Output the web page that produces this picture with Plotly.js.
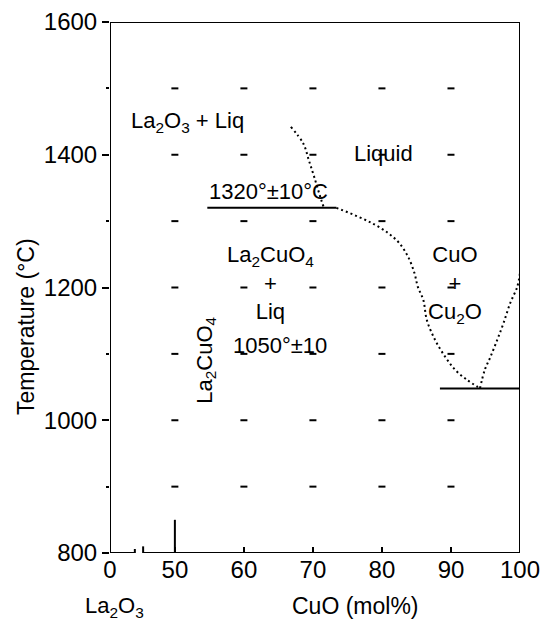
<!DOCTYPE html>
<html>
<head>
<meta charset="utf-8">
<script src="https://cdn.plot.ly/plotly-3.0.1.min.js"></script>
<style>html,body{margin:0;padding:0;background:#fff;}#chart{width:542px;height:623px;}</style>
</head>
<body>
<div id="chart"></div>
<script>
// ---- data (composition in mol% CuO, temperature in °C) ----
const compTicks = [0, 50, 60, 70, 80, 90, 100];
const compTickLabels = ['0', '50', '60', '70', '80', '90', '100'];
const tempTicks = [800, 1000, 1200, 1400, 1600];
const tempTickLabels = ['800', '1000', '1200', '1400', '1600'];

// La2O3 liquidus (above peritectic)
const liqLa2O3Comp = [66.8, 68.6, 69.4, 70.2, 71.2, 71.6];
const liqLa2O3Temp = [1442, 1417, 1392, 1366, 1332, 1320];
// liquidus from peritectic to eutectic
const liqMainComp = [73.4, 76.5, 78.9, 80.9, 82.5, 83.8, 84.7, 85.2, 86.0, 86.5, 87.7, 89.2, 90.6, 92.3, 93.9];
const liqMainTemp = [1320, 1307, 1295, 1282, 1267, 1246, 1222, 1201, 1181, 1151, 1121, 1095, 1076, 1061, 1050];
// CuO/Cu2O side branch from eutectic
const liqCuOComp = [94.2, 94.9, 95.7, 96.7, 97.6, 98.6, 99.6, 100];
const liqCuOTemp = [1048, 1076, 1095, 1121, 1146, 1177, 1201, 1222];

// invariant lines
const peritecticComp = [54.7, 73.4];
const peritecticTemp = [1320, 1320];
const eutecticComp = [88.4, 100];
const eutecticTemp = [1048, 1048];
const la2cuo4Comp = [50, 50];
const la2cuo4Temp = [800, 850];

// grid marks
const gridComp = [50, 60, 70, 80, 90];
const gridTemp = [900, 1000, 1100, 1200, 1300, 1400, 1500];

// ---- axis break: composition 0 is drawn just left of 50 ----
const ZERO_POS = 40.6;
const pos = c => (c === 0 ? ZERO_POS : c);

const FONT = 'Liberation Sans, Arial, sans-serif';
const gx = [], gy = [];
gridComp.forEach(c => gridTemp.forEach(t => { gx.push(pos(c)); gy.push(t); }));

const dotted = {color: '#000', width: 2, dash: '2px,3px', shape: 'spline'};
const solid = {color: '#000', width: 2};

const traces = [
  {x: gx, y: gy, mode: 'markers', marker: {symbol: 'line-ew', size: 5, line: {color: '#000', width: 2}}, hoverinfo: 'skip'},
  {x: liqLa2O3Comp.map(pos), y: liqLa2O3Temp, mode: 'lines', line: dotted},
  {x: liqMainComp.map(pos), y: liqMainTemp, mode: 'lines', line: dotted},
  {x: liqCuOComp.map(pos), y: liqCuOTemp, mode: 'lines', line: dotted},
  {x: peritecticComp.map(pos), y: peritecticTemp, mode: 'lines', line: solid},
  {x: eutecticComp.map(pos), y: eutecticTemp, mode: 'lines', line: solid},
  {x: la2cuo4Comp.map(pos), y: la2cuo4Temp, mode: 'lines', line: solid}
];

const brkA = 44.2, brkB = 45.4;
const shapes = [
  // frame
  {type: 'line', xref: 'x', yref: 'y', x0: ZERO_POS, x1: ZERO_POS, y0: 800, y1: 1600, line: solid},
  {type: 'line', xref: 'x', yref: 'y', x0: ZERO_POS, x1: 100, y0: 1600, y1: 1600, line: solid},
  {type: 'line', xref: 'x', yref: 'y', x0: 100, x1: 100, y0: 800, y1: 1600, line: solid},
  // bottom axis with break
  {type: 'line', xref: 'x', yref: 'y', x0: ZERO_POS, x1: brkA, y0: 800, y1: 800, line: solid},
  {type: 'line', xref: 'x', yref: 'y', x0: brkB, x1: 100, y0: 800, y1: 800, line: solid},
  {type: 'line', xref: 'x', yref: 'y', x0: brkA, x1: brkA, y0: 794, y1: 806, line: solid},
  {type: 'line', xref: 'x', yref: 'y', x0: brkB, x1: brkB, y0: 790, y1: 810, line: solid}
];

const ann = (x, y, text, extra) => Object.assign({x: x, y: y, xref: 'x', yref: 'y', text: text, showarrow: false,
  xanchor: 'center', yanchor: 'middle', font: {family: FONT, size: 22, color: '#000'}}, extra || {});

// paper coordinates are relative to the plot area (left 110px, width 410px; bottom 553px, height 531px)
const px = v => (v - 110) / 410;
const py = v => (553 - v) / 531;

const annotations = [
  ann(51.8, 1449, 'La<sub>2</sub>O<sub>3</sub> + Liq'),
  ann(80.2, 1402, 'Liquid'),
  ann(63.5, 1345, '1320°±10°C'),
  ann(63.8, 1207, 'La<sub>2</sub>CuO<sub>4</sub><br>+<br>Liq'),
  ann(90.6, 1204, 'CuO<br>+<br>Cu<sub>2</sub>O'),
  ann(65.2, 1113, '1050°±10'),
  ann(54.4, 1090, 'La<sub>2</sub>CuO<sub>4</sub>', {textangle: -90}),
  {x: px(114), y: py(607), xref: 'paper', yref: 'paper', text: 'La<sub>2</sub>O<sub>3</sub>', showarrow: false,
   xanchor: 'center', yanchor: 'middle', font: {family: FONT, size: 22, color: '#000'}},
  {x: px(355), y: py(606), xref: 'paper', yref: 'paper', text: 'CuO (mol%)', showarrow: false,
   xanchor: 'center', yanchor: 'middle', font: {family: FONT, size: 23, color: '#000'}},
  {x: px(26), y: py(327), xref: 'paper', yref: 'paper', text: 'Temperature (°C)', textangle: -90, showarrow: false,
   xanchor: 'center', yanchor: 'middle', font: {family: FONT, size: 23, color: '#000'}}
];

const layout = {
  width: 542, height: 623,
  margin: {l: 110, r: 22, t: 22, b: 70, pad: 0},
  paper_bgcolor: '#fff', plot_bgcolor: '#fff',
  showlegend: false,
  font: {family: FONT, color: '#000'},
  xaxis: {
    range: [ZERO_POS, 100], tickmode: 'array', tickvals: compTicks.map(pos), ticktext: compTickLabels,
    ticks: 'inside', ticklen: 6, tickwidth: 2, tickcolor: '#000', showgrid: false, zeroline: false, showline: false,
    tickfont: {family: FONT, size: 24, color: '#000'}, fixedrange: true
  },
  yaxis: {
    range: [800, 1600], tickmode: 'array', tickvals: tempTicks, ticktext: tempTickLabels,
    ticks: 'outside', ticklen: 7, tickwidth: 2, tickcolor: '#000', showgrid: false, zeroline: false, showline: false,
    minor: {tickvals: [900, 1100, 1300, 1500], ticks: 'outside', ticklen: 3, tickwidth: 2, tickcolor: '#000'},
    tickfont: {family: FONT, size: 24, color: '#000'}, fixedrange: true
  },
  shapes: shapes,
  annotations: annotations
};

Plotly.newPlot('chart', traces, layout, {displayModeBar: false, staticPlot: true});
</script>
</body>
</html>
